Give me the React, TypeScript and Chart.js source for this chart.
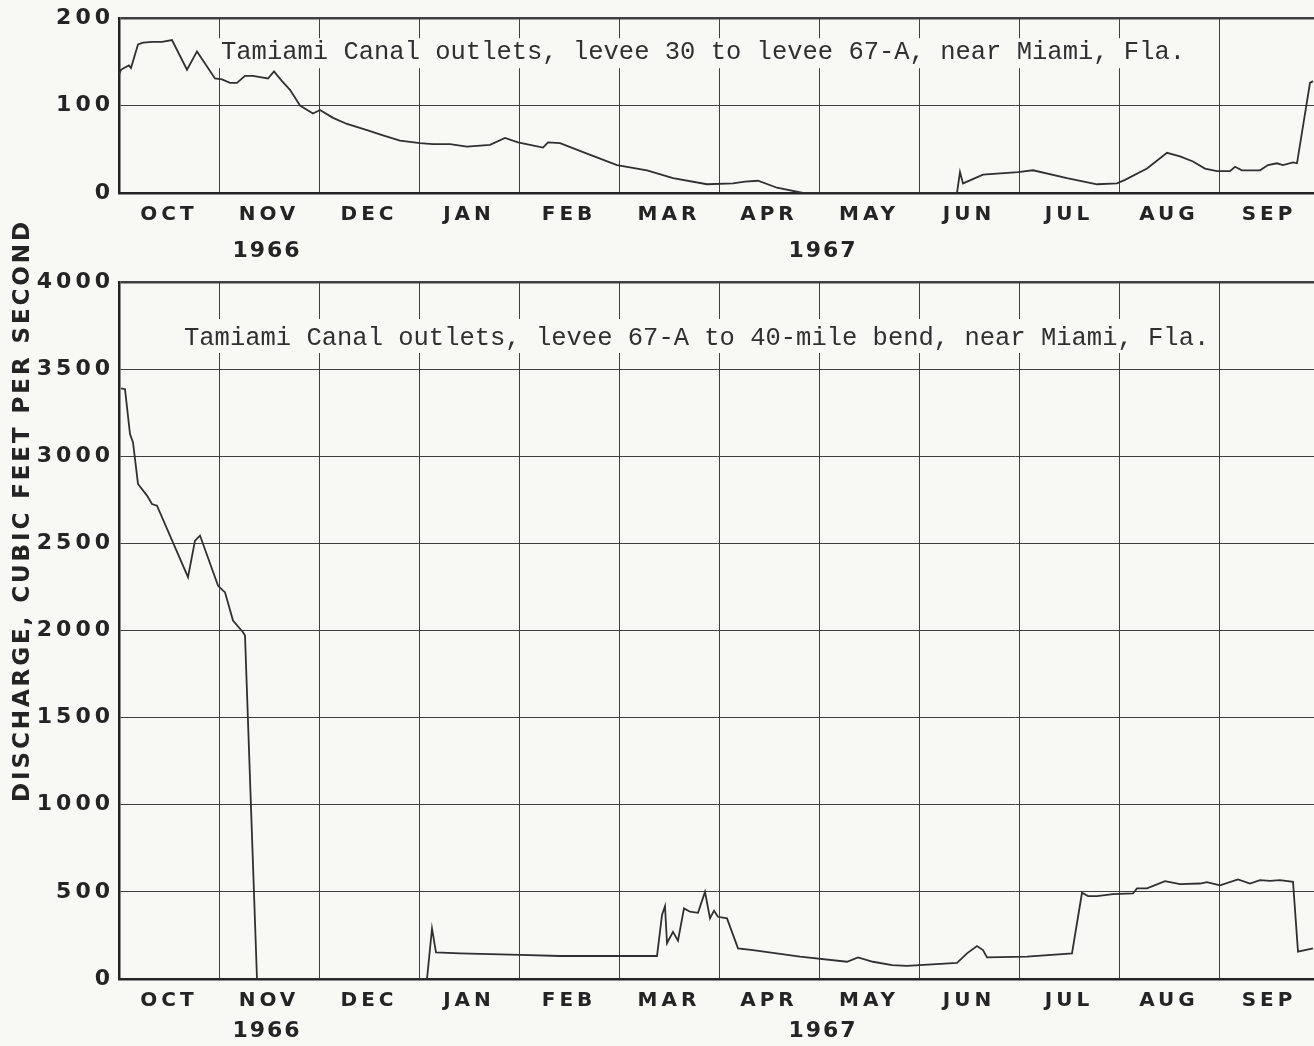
import React, { useEffect, useRef } from "react";
import { Chart, registerables } from "chart.js";

Chart.register(...registerables);

// Water year Oct 1966 - Sep 1967; x is measured in months since 1 Oct 1966.
const MONTHS = ["OCT", "NOV", "DEC", "JAN", "FEB", "MAR", "APR", "MAY", "JUN", "JUL", "AUG", "SEP"];
const YEAR_LABELS = ["1966", "1967"];
const YEAR_AT = [1.47, 7.03];

const UPPER_TITLE = "Tamiami Canal outlets, levee 30 to levee 67-A, near Miami, Fla.";
const LOWER_TITLE = "Tamiami Canal outlets, levee 67-A to 40-mile bend, near Miami, Fla.";
const Y_TITLE = "DISCHARGE, CUBIC FEET PER SECOND";

const UPPER_TICKS = [0, 100, 200];
const LOWER_TICKS = [0, 500, 1000, 1500, 2000, 2500, 3000, 3500, 4000];

// Levee 30 to levee 67-A (cfs)
const UPPER_T = [0.0, 0.02, 0.05, 0.1, 0.12, 0.19, 0.24, 0.34, 0.43, 0.53, 0.68, 0.78, 0.96, 1.03, 1.11, 1.18, 1.26, 1.34, 1.44, 1.49, 1.55, 1.63, 1.71, 1.81, 1.94, 2.01, 2.14, 2.28, 2.48, 2.64, 2.81, 3.01, 3.14, 3.31, 3.48, 3.71, 3.86, 3.99, 4.24, 4.29, 4.41, 4.68, 4.98, 5.28, 5.54, 5.88, 6.14, 6.26, 6.39, 6.58, 6.84, 7.6, 8.38, 8.41, 8.44, 8.64, 8.99, 9.14, 9.48, 9.78, 9.98, 10.06, 10.28, 10.48, 10.61, 10.74, 10.86, 10.98, 11.11, 11.16, 11.23, 11.41, 11.49, 11.58, 11.64, 11.74, 11.78, 11.91, 11.94];
const UPPER_Q = [135, 141, 143, 146, 143, 170, 172, 173, 173, 175, 141, 162, 131, 130, 126, 126, 134, 134, 132, 131, 139, 128, 118, 100, 91, 95, 86, 79, 72, 66, 60, 57, 56, 56, 53, 55, 63, 58, 52, 58, 57, 45, 32, 26, 17, 10, 11, 13, 14, 6, 0, 0, 0, 24, 11, 21, 24, 26, 17, 10, 11, 15, 28, 46, 42, 36, 28, 25, 25, 30, 26, 26, 32, 34, 32, 35, 34, 126, 128];

// Levee 67-A to 40-mile bend (cfs)
const LOWER_T = [0.02, 0.06, 0.11, 0.14, 0.19, 0.28, 0.33, 0.38, 0.69, 0.76, 0.81, 0.99, 1.04, 1.06, 1.14, 1.24, 1.26, 1.38, 2.2, 3.08, 3.13, 3.17, 3.41, 4.01, 4.41, 5.38, 5.43, 5.46, 5.48, 5.54, 5.59, 5.65, 5.71, 5.79, 5.86, 5.91, 5.95, 5.99, 6.08, 6.19, 6.34, 6.81, 7.28, 7.39, 7.54, 7.73, 7.88, 8.38, 8.48, 8.58, 8.64, 8.68, 9.08, 9.53, 9.63, 9.69, 9.78, 9.94, 10.14, 10.18, 10.28, 10.46, 10.61, 10.81, 10.88, 11.01, 11.19, 11.31, 11.41, 11.51, 11.61, 11.74, 11.79, 11.94];
const LOWER_Q = [3390, 3385, 3127, 3079, 2841, 2774, 2726, 2716, 2306, 2516, 2545, 2258, 2229, 2220, 2057, 1990, 1971, 0, 0, 0, 290, 153, 147, 138, 132, 132, 367, 418, 205, 271, 220, 405, 386, 380, 500, 348, 392, 357, 348, 176, 166, 128, 99, 124, 99, 80, 75, 93, 147, 189, 166, 124, 128, 147, 495, 476, 476, 487, 491, 520, 520, 562, 544, 548, 556, 537, 571, 548, 567, 563, 567, 558, 157, 176];

// Page geometry and styles
const W = 1314;
const H = 1046;
const PLOT_LEFT = 119;
const X_MAX = 11.95;
const MONTH_PX = (W - PLOT_LEFT) / X_MAX;
const BG = "#f8f8f5";
const INK = "#242424";
const GRID = "#3f3f3f";
const LINE = "#303030";
const SANS = "'DejaVu Sans', sans-serif";
const MONO = "'Liberation Mono', monospace";

type PanelSpec = {
  t: number[];
  q: number[];
  ticks: number[];
  canvasH: number;
  plotTop: number;
  plotBottom: number;
  title: string;
  titleX: number; // offsets from chart area left/top
  titleBase: number;
  box: [number, number, number, number]; // x0, y0, x1, y1 offsets from chart area
  yearDy: number;
  yTitle: boolean;
};

function makePlugins(spec: PanelSpec) {
  return [
    {
      id: "panelText",
      beforeDraw(chart: any) {
        chart.ctx.letterSpacing = "4px";
      },
      beforeDatasetsDraw(chart: any) {
        const ctx = chart.ctx;
        ctx.letterSpacing = "0px";
        const a = chart.chartArea;
        // caption sits on a blank strip that interrupts the grid
        ctx.save();
        ctx.fillStyle = BG;
        const [x0, y0, x1, y1] = spec.box;
        ctx.fillRect(a.left + x0, a.top + y0, x1 - x0, y1 - y0);
        ctx.fillStyle = "#303030";
        ctx.font = `25.5px ${MONO}`;
        ctx.textAlign = "left";
        ctx.textBaseline = "alphabetic";
        ctx.fillText(spec.title, a.left + spec.titleX, a.top + spec.titleBase);
        ctx.restore();
      },
      afterDraw(chart: any) {
        const ctx = chart.ctx;
        const a = chart.chartArea;
        const xs = chart.scales.x;
        ctx.save();
        ctx.fillStyle = INK;
        ctx.font = `bold 22px ${SANS}`;
        ctx.letterSpacing = "2px";
        ctx.textAlign = "center";
        ctx.textBaseline = "middle";
        YEAR_LABELS.forEach((lbl, i) => {
          ctx.fillText(lbl, xs.getPixelForValue(YEAR_AT[i]) + 1, a.bottom + spec.yearDy);
        });
        ctx.restore();
        if (spec.yTitle) {
          ctx.save();
          ctx.fillStyle = INK;
          ctx.font = `bold 23px ${SANS}`;
          ctx.letterSpacing = "0px";
          const span = 580;
          const w0 = ctx.measureText(Y_TITLE).width;
          const sp = (span - w0) / (Y_TITLE.length - 1);
          ctx.letterSpacing = `${sp}px`;
          ctx.translate(23, 512);
          ctx.rotate(-Math.PI / 2);
          ctx.textAlign = "center";
          ctx.textBaseline = "middle";
          ctx.fillText(Y_TITLE, sp / 2, 0);
          ctx.restore();
        }
      },
    },
  ];
}

function makeConfig(spec: PanelSpec): any {
  const yMax = spec.ticks[spec.ticks.length - 1];
  return {
    type: "line",
    data: {
      datasets: [
        {
          data: spec.t.map((t, i) => ({ x: t, y: spec.q[i] })),
          borderColor: LINE,
          borderWidth: 1.8,
          pointRadius: 0,
          tension: 0,
          fill: false,
        },
      ],
    },
    options: {
      responsive: false,
      animation: false,
      devicePixelRatio: 1,
      events: [],
      layout: { padding: { top: spec.plotTop, left: 0, right: 0, bottom: 0 } },
      plugins: { legend: { display: false }, tooltip: { enabled: false }, title: { display: false } },
      scales: {
        x: {
          type: "linear",
          min: 0,
          max: X_MAX,
          afterBuildTicks: (s: any) => {
            s.ticks = MONTHS.map((_, i) => ({ value: i }));
          },
          afterFit: (s: any) => {
            s.height = spec.canvasH - spec.plotBottom;
          },
          grid: {
            color: GRID,
            lineWidth: (c: any) => (c.tick && c.tick.value === 0 ? 0 : 1),
            drawTicks: false,
          },
          border: { display: true, color: INK, width: 2.5 },
          ticks: {
            autoSkip: false,
            maxRotation: 0,
            minRotation: 0,
            padding: 10,
            labelOffset: MONTH_PX / 2,
            color: INK,
            font: { family: SANS, size: 20, weight: "bold" },
            callback: (v: number) => MONTHS[v] ?? "",
          },
        },
        y: {
          type: "linear",
          min: 0,
          max: yMax,
          afterBuildTicks: (s: any) => {
            s.ticks = spec.ticks.map((v) => ({ value: v }));
          },
          afterFit: (s: any) => {
            s.width = PLOT_LEFT;
          },
          grid: {
            color: GRID,
            lineWidth: (c: any) => (c.tick && c.tick.value === yMax ? 2.5 : 1),
            drawTicks: false,
          },
          border: { display: true, color: INK, width: 2.5 },
          ticks: {
            padding: 5,
            color: INK,
            font: { family: SANS, size: 22, weight: "bold" },
            callback: (v: number) => String(v),
          },
        },
      },
    },
    plugins: makePlugins(spec),
  };
}

const UPPER_SPEC: PanelSpec = {
  t: UPPER_T,
  q: UPPER_Q,
  ticks: UPPER_TICKS,
  canvasH: 270,
  plotTop: 18,
  plotBottom: 193,
  title: UPPER_TITLE,
  titleX: 102,
  titleBase: 41,
  box: [95, 20, 1076, 50],
  yearDy: 58,
  yTitle: false,
};

const LOWER_SPEC: PanelSpec = {
  t: LOWER_T,
  q: LOWER_Q,
  ticks: LOWER_TICKS,
  canvasH: H,
  plotTop: 282,
  plotBottom: 979,
  title: LOWER_TITLE,
  titleX: 65,
  titleBase: 63,
  box: [58, 37, 1094, 71],
  yearDy: 52,
  yTitle: true,
};

export default function App() {
  const upperRef = useRef<HTMLCanvasElement>(null);
  const lowerRef = useRef<HTMLCanvasElement>(null);

  useEffect(() => {
    const charts: Chart[] = [];
    if (upperRef.current) charts.push(new Chart(upperRef.current, makeConfig(UPPER_SPEC)));
    if (lowerRef.current) charts.push(new Chart(lowerRef.current, makeConfig(LOWER_SPEC)));
    return () => charts.forEach((c) => c.destroy());
  }, []);

  return (
    <div
      style={{
        position: "absolute",
        left: 0,
        top: 0,
        width: W,
        height: H,
        background: BG,
        overflow: "hidden",
      }}
    >
      <canvas ref={upperRef} width={W} height={UPPER_SPEC.canvasH} style={{ position: "absolute", left: 0, top: 0 }} />
      <canvas ref={lowerRef} width={W} height={H} style={{ position: "absolute", left: 0, top: 0 }} />
    </div>
  );
}
